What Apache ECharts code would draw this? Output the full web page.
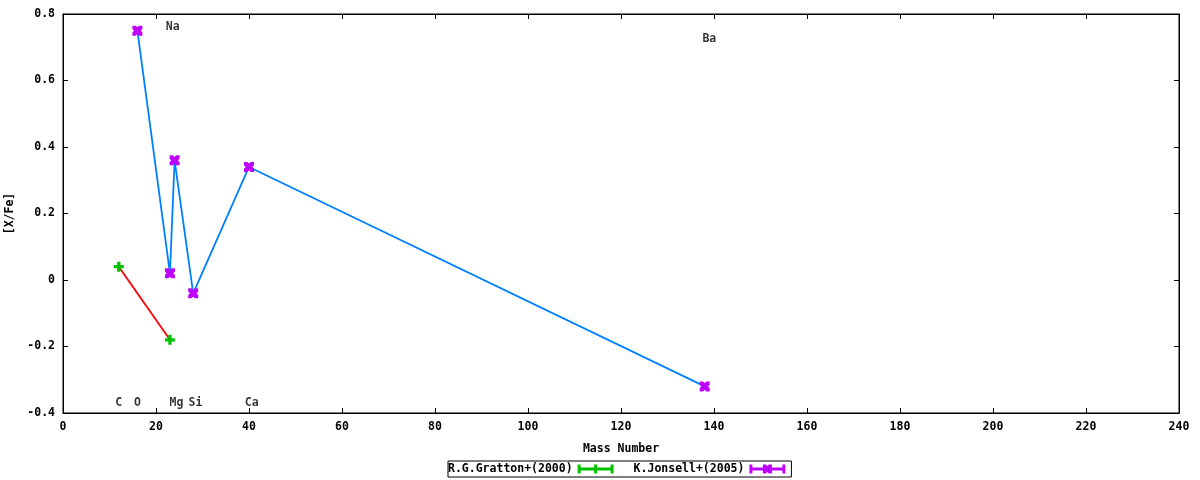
<!DOCTYPE html>
<html>
<head>
<meta charset="utf-8">
<script src="https://cdn.jsdelivr.net/npm/echarts@6/dist/echarts.min.js"></script>
<style>
html,body{margin:0;padding:0;background:#fff;}
#chart{width:1200px;height:480px;}
</style>
</head>
<body>
<div id="chart"></div>
<script>
const grattonMass = [12, 23];
const grattonVal = [0.04, -0.18];
const jonsellMass = [16, 23, 24, 28, 40, 138];
const jonsellVal = [0.75, 0.02, 0.36, -0.04, 0.34, -0.32];
const elemNames = ['C', 'O', 'Na', 'Mg', 'Si', 'Ca', 'Ba'];
const elemX = [12, 16, 23.6, 24.4, 28.5, 40.6, 139];
const elemY = [-0.37, -0.37, 0.762, -0.37, -0.37, -0.37, 0.725];
const seriesNames = ['R.G.Gratton+(2000)', 'K.Jonsell+(2005)'];

const FONT = 'DejaVu Sans Mono';
const FS = 11.5;
const plusSym = 'path://M3,0h3v3h3v3h-3v3h-3v-3h-3v-3h3z';
const xSym = 'path://M0,0h3l1.5,1.5l1.5,-1.5h3v3l-1.5,1.5l1.5,1.5v3h-3l-1.5,-1.5l-1.5,1.5h-3v-3l1.5,-1.5l-1.5,-1.5z';
const legIconG = 'path://M0,3h36v3h-36z M0,0h3v9h-3z M33,0h3v9h-3z M16.5,0h3v9h-3z M13.5,3h9v3h-9z';
const legIconJ = 'path://M0,3h36v3h-36z M0,0h3v9h-3z M33,0h3v9h-3z M13.5,0h3l1.5,1.5l1.5,-1.5h3v3l-1.5,1.5l1.5,1.5v3h-3l-1.5,-1.5l-1.5,1.5h-3v-3l1.5,-1.5l-1.5,-1.5z';

const chart = echarts.init(document.getElementById('chart'));
const tickStyle = {show: true, inside: true, length: 5, lineStyle: {color: '#000', width: 1}};
const txt = {fontFamily: FONT, fontSize: FS, fontWeight: 'bold', color: '#000'};
chart.setOption({
  animation: false,
  backgroundColor: '#fff',
  textStyle: {fontFamily: FONT},
  grid: {left: 63, right: 21, top: 14, bottom: 67, show: true, borderColor: '#000', borderWidth: 1,
    containLabel: false, outerBoundsMode: 'none'},
  legend: {
    left: 448, top: 461,
    orient: 'horizontal',
    align: 'right',
    itemWidth: 36, itemHeight: 9, itemGap: 20,
    borderColor: '#000', borderWidth: 1, padding: [2, 6, 2, 0],
    textStyle: Object.assign({}, txt, {padding: [0, 0, 0, 0]}),
    data: [
      {name: seriesNames[0], icon: legIconG, itemStyle: {color: '#00c000'}},
      {name: seriesNames[1], icon: legIconJ, itemStyle: {color: '#c000ff'}}
    ]
  },
  xAxis: [{
    type: 'value', min: 0, max: 240, interval: 20,
    name: 'Mass Number', nameLocation: 'middle', nameGap: 30,
    nameTextStyle: txt,
    axisLine: {show: true, onZero: false, lineStyle: {color: '#000', width: 1}},
    axisTick: tickStyle,
    axisLabel: Object.assign({margin: 8}, txt),
    splitLine: {show: false}
  }, {
    type: 'value', min: 0, max: 240, interval: 20, position: 'top',
    axisLine: {show: true, onZero: false, lineStyle: {color: '#000'}},
    axisTick: tickStyle, axisLabel: {show: false}, splitLine: {show: false}
  }],
  yAxis: [{
    type: 'value', min: -0.4, max: 0.8, interval: 0.2,
    name: '[X/Fe]', nameLocation: 'middle', nameGap: 44, nameRotate: 90,
    nameTextStyle: txt,
    axisLine: {show: true, onZero: false, lineStyle: {color: '#000', width: 1}},
    axisTick: tickStyle,
    axisLabel: Object.assign({margin: 8, formatter: v => String(Number(v.toFixed(1)))}, txt),
    splitLine: {show: false}
  }, {
    type: 'value', min: -0.4, max: 0.8, interval: 0.2, position: 'right',
    axisLine: {show: true, onZero: false, lineStyle: {color: '#000'}},
    axisTick: tickStyle, axisLabel: {show: false}, splitLine: {show: false}
  }],
  series: [
    {
      name: seriesNames[0], type: 'line',
      data: grattonMass.map((m, i) => [m, grattonVal[i]]),
      symbol: plusSym, symbolSize: 10,
      itemStyle: {color: '#00c000'},
      lineStyle: {color: '#ff0000', width: 1.8},
      z: 3
    },
    {
      name: seriesNames[1], type: 'line',
      data: jonsellMass.map((m, i) => [m, jonsellVal[i]]),
      symbol: xSym, symbolSize: 10,
      itemStyle: {color: '#c000ff'},
      lineStyle: {color: '#0080ff', width: 1.8},
      z: 3
    },
    {
      name: 'labels', type: 'scatter',
      data: elemX.map((x, i) => ({value: [x, elemY[i]], name: elemNames[i]})),
      symbolSize: 0, silent: true,
      label: Object.assign({show: true, position: 'inside', formatter: p => p.name}, txt)
    }
  ]
});
</script>
</body>
</html>
